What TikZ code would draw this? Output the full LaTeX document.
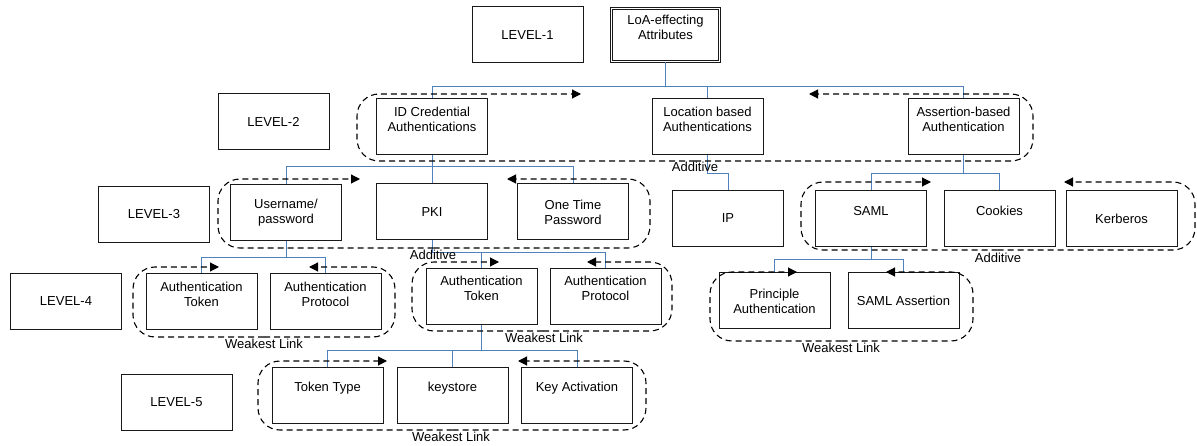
\documentclass[tikz,border=0pt]{standalone}
\usepackage{fontspec}
\setmainfont{Liberation Sans}
\usetikzlibrary{arrows.meta,calc}
\definecolor{connblue}{RGB}{79,129,189}
\tikzset{
  box/.style={draw=black!90, line width=1pt, minimum width=111pt, minimum height=56pt,
    inner sep=0pt, align=center, font=\fontsize{13}{15}\selectfont},
  hi/.style={text depth=16pt},
  loabox/.style={box, double=white, double distance=1.6pt, line width=0.9pt,
    minimum width=108pt, minimum height=53pt},
  conn/.style={draw=connblue, line width=1pt},
  grp/.style={draw=black, line width=1.1pt, dash pattern=on 6pt off 4pt,
    rounded corners=22pt, -{Triangle[length=9pt,width=9pt]}},
  lbl/.style={font=\fontsize{13}{15}\selectfont, inner sep=0pt}
}
\newcommand\dgroup[6]{%
  \draw[grp] ({(#5+#6)/2},#4) -- (#1,#4) -- (#1,#2) -- (#5,#2);
  \draw[grp] ({(#5+#6)/2},#4) -- (#3,#4) -- (#3,#2) -- (#6,#2);
}
\begin{document}
\begin{tikzpicture}[x=1pt,y=-1pt]
\useasboundingbox (0,0) rectangle (1197,446);
% level 1
\node[box] (lev1) at (527.5,35) {LEVEL-1};
\node[loabox,hi] (loa) at (665.5,35) {LoA-effecting\\Attributes};
% level 2
\node[box] (lev2) at (273.5,122) {LEVEL-2};
\node[box,hi] (idc) at (432,127) {ID Credential\\Authentications};
\node[box,hi] (loc) at (707.5,127) {Location based\\Authentications};
\node[box,hi] (asr) at (963.5,127) {Assertion-based\\Authentication};
% level 3
\node[box] (lev3) at (154,214.5) {LEVEL-3};
\node[box] (usr) at (286,213) {Username/\\password};
\node[box] (pki) at (432,212) {PKI};
\node[box] (otp) at (573,212) {One Time\\Password};
\node[box] (ip) at (728,218.5) {IP};
\node[box,hi] (saml) at (871,218.5) {SAML};
\node[box,hi] (cook) at (999.5,218.5) {Cookies};
\node[box] (kerb) at (1121.5,218.5) {Kerberos};
% level 4
\node[box] (lev4) at (66,301.5) {LEVEL-4};
\node[box,hi] (at1) at (201.5,302) {Authentication\\Token};
\node[box,hi] (ap1) at (325.5,302) {Authentication\\Protocol};
\node[box,hi] (at2) at (481.5,296.5) {Authentication\\Token};
\node[box,hi] (ap2) at (605.5,296.5) {Authentication\\Protocol};
\node[box] (pri) at (774.5,301) {Principle\\Authentication};
\node[box] (sa) at (903.5,301) {SAML Assertion};
% level 5
\node[box] (lev5) at (176.5,402.5) {LEVEL-5};
\node[box,hi] (tt) at (327.5,395) {Token Type};
\node[box,hi] (ks) at (452.5,395) {keystore};
\node[box,hi] (ka) at (577,395) {Key Activation};
% connectors
\draw[conn] (loa.south) -- ++(0,25) coordinate (b1) -| (idc.north);
\draw[conn] (b1) -| (loc.north);
\draw[conn] (b1) -| (asr.north);
\draw[conn] (idc.south) -- ++(0,11.5) coordinate (b2) -| (usr.north);
\draw[conn] (b2) -| (pki.north);
\draw[conn] (b2) -| (otp.north);
\draw[conn] (loc.south) -- ++(0,18) -| (ip.north);
\draw[conn] (asr.south) -- ++(0,18) coordinate (b4) -| (saml.north);
\draw[conn] (b4) -| (cook.north);
\draw[conn] (usr.south) -- ++(0,16) coordinate (b5) -| (at1.north);
\draw[conn] (b5) -| (ap1.north);
\draw[conn] (pki.south) -- ++(0,12) coordinate (b6) -| (at2.north);
\draw[conn] (b6) -| (ap2.north);
\draw[conn] (saml.south) -- ++(0,13) coordinate (b7) -| (pri.north);
\draw[conn] (b7) -| (sa.north);
\draw[conn] (at2.south) -- ++(0,26) coordinate (b8) -| (tt.north);
\draw[conn] (b8) -| (ks.north);
\draw[conn] (b8) -| (ka.north);
% dashed groups
\dgroup{357}{94}{1033}{161}{581}{809}
\dgroup{218}{179}{650}{248}{360}{507}
\dgroup{801}{182}{1195}{250}{931}{1064}
\dgroup{133}{267}{395}{337}{219}{309}
\dgroup{412}{262}{672}{331}{499}{587}
\dgroup{710}{272}{973}{341}{797}{886}
\dgroup{258}{361}{646}{430}{387}{518}
% group labels
\node[lbl] (add1) at (695,167) {Additive};
\node[lbl] (add2) at (433,255) {Additive};
\node[lbl] (add3) at (998,258) {Additive};
\node[lbl] (wl1) at (264,344) {Weakest Link};
\node[lbl] (wl2) at (544,338) {Weakest Link};
\node[lbl] (wl3) at (841,348) {Weakest Link};
\node[lbl] (wl4) at (451,437) {Weakest Link};
\end{tikzpicture}
\end{document}
